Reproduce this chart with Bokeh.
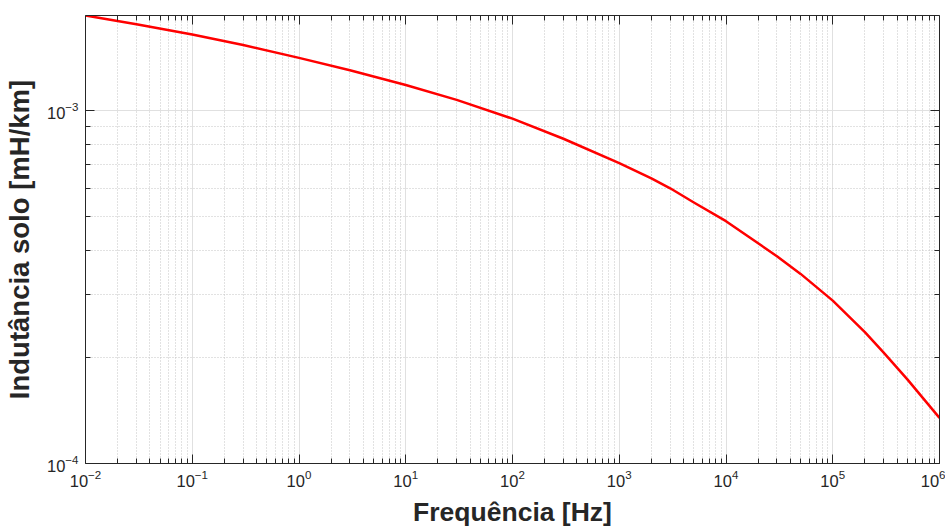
from bokeh.plotting import figure
from bokeh.models import FixedTicker, LogAxis, Range1d, CustomJSTickFormatter
from bokeh.embed import file_html
from bokeh.resources import INLINE

# data
freq = [1e-2, 3e-2, 1e-1, 3e-1, 1e0, 3e0, 1e1, 3e1, 1e2, 3e2,
        1e3, 2e3, 3e3, 5e3, 1e4, 3e4, 5e4, 1e5, 2e5, 3e5, 5e5, 1e6]
induct = [1.853e-3, 1.750e-3, 1.637e-3, 1.528e-3, 1.406e-3, 1.297e-3, 1.178e-3, 1.069e-3,
          9.46e-4, 8.30e-4, 7.08e-4, 6.41e-4, 6.01e-4, 5.48e-4, 4.85e-4, 3.86e-4, 3.44e-4,
          2.89e-4, 2.355e-4, 2.06e-4, 1.73e-4, 1.346e-4]

x_major = [1e-2, 1e-1, 1e0, 1e1, 1e2, 1e3, 1e4, 1e5, 1e6]
y_major = [1e-4, 1e-3]
x_minor = [m * d for d in x_major[:-1] for m in range(2, 10)]
y_minor = [m * d for d in [1e-4, 1e-3] for m in range(2, 10)]

TXT = "#262626"
FONT = "Liberation Sans"

p = figure(x_axis_type="log", y_axis_type="log", output_backend="svg", toolbar_location=None,
           frame_width=854, frame_height=448,
           min_border_left=83, min_border_right=6, min_border_top=15, min_border_bottom=61,
           x_range=Range1d(1e-2, 1e6), y_range=Range1d(1e-4, 1.853e-3))
p.outline_line_color = None
p.background_fill_color = "white"
p.border_fill_color = "white"

p.line(freq, induct, line_color="#ff0000", line_width=2.5, line_join="round")

for ax in (p.xaxis[0], p.yaxis[0]):
    ax.major_label_text_font = FONT
    ax.major_label_text_font_size = "16.5px"
    ax.major_label_text_color = TXT
    ax.axis_label_text_font = FONT
    ax.axis_label_text_font_style = "bold"
    ax.axis_label_text_color = TXT
    ax.axis_line_color = TXT
    ax.major_tick_line_color = TXT
    ax.minor_tick_line_color = TXT
    ax.major_tick_in = 9
    ax.major_tick_out = 0
    ax.minor_tick_in = 5
    ax.minor_tick_out = 0

p.xaxis[0].ticker = FixedTicker(ticks=x_major, minor_ticks=x_minor)
p.yaxis[0].ticker = FixedTicker(ticks=y_major, minor_ticks=y_minor)
p.xaxis[0].axis_label = "Frequência [Hz]"
p.yaxis[0].axis_label = "Indutância solo [mH/km]"
p.xaxis[0].axis_label_text_font_size = "26.5px"
p.yaxis[0].axis_label_text_font_size = "27.5px"
p.xaxis[0].major_label_standoff = 6
p.yaxis[0].major_label_standoff = 7
p.xaxis[0].axis_label_standoff = 7
p.yaxis[0].axis_label_standoff = 9

box_kw = dict(axis_line_color=TXT, major_tick_line_color=TXT, minor_tick_line_color=TXT,
              major_tick_in=9, major_tick_out=0, minor_tick_in=5, minor_tick_out=0,
              major_label_standoff=0, major_label_text_font_size="1px")
top = LogAxis(ticker=FixedTicker(ticks=x_major, minor_ticks=x_minor),
              formatter=CustomJSTickFormatter(code="return ''"), **box_kw)
right = LogAxis(ticker=FixedTicker(ticks=y_major, minor_ticks=y_minor),
                formatter=CustomJSTickFormatter(code="return ''"), **box_kw)
p.add_layout(top, "above")
p.add_layout(right, "right")

for g in (p.xgrid[0], p.ygrid[0]):
    g.grid_line_color = "#e0e0e0"
    g.grid_line_width = 1
    g.minor_grid_line_color = "#c4c4c4"
    g.minor_grid_line_dash = "1 2"
    g.minor_grid_line_width = 1

open("out.html", "w").write(file_html(p, INLINE))
